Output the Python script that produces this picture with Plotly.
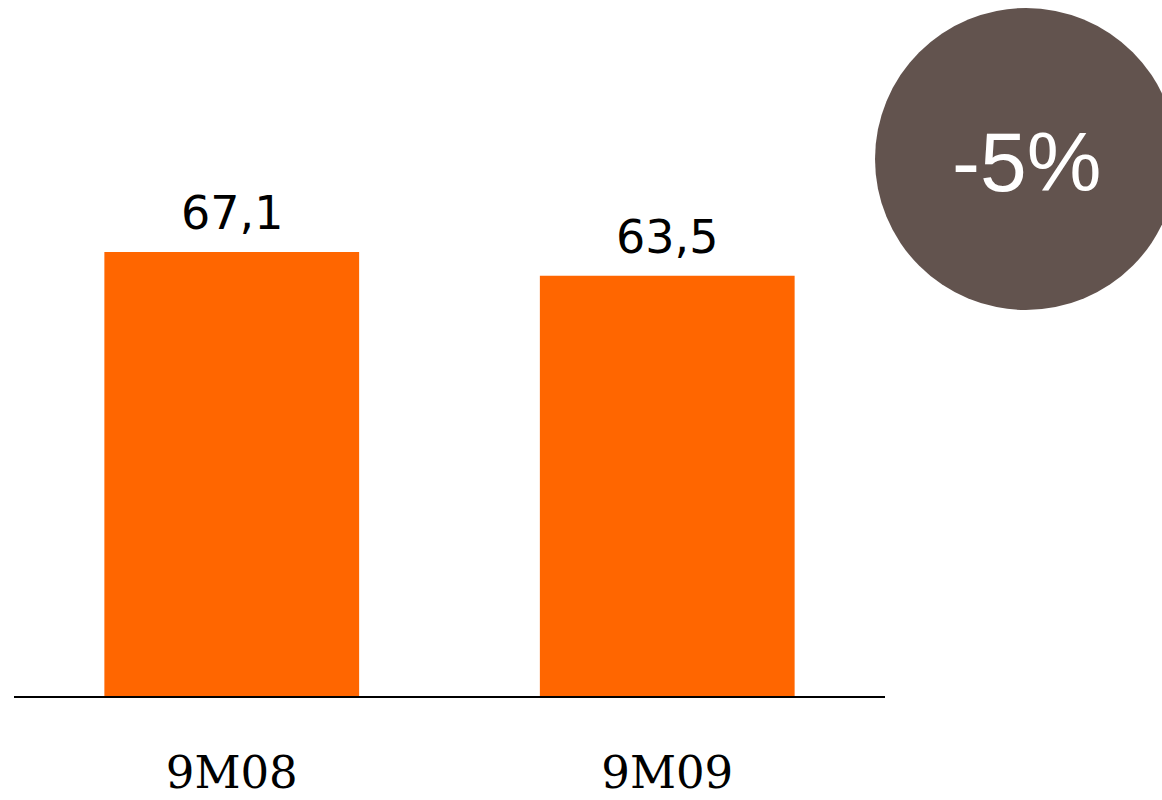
import plotly.graph_objects as go

# Data
periods = ["9M08", "9M09"]
values = [67.1, 63.5]
value_labels = ["67,1", "63,5"]
change_label = "-5%"

ORANGE = "#FF6600"
BROWN = "#62534E"

W, H = 1162, 800
PLOT_BOTTOM = 696  # pixel row of the baseline
PX_PER_UNIT = 444 / 67.1

fig = go.Figure()

fig.add_trace(go.Bar(
    x=periods,
    y=values,
    width=0.585,
    marker=dict(color=ORANGE, line=dict(width=0)),
    hoverinfo="skip",
))

# Value labels above bars
for p, v, lab in zip(periods, values, value_labels):
    fig.add_annotation(
        x=p, y=v, text=lab, showarrow=False,
        xanchor="center", yanchor="bottom", yshift=10,
        font=dict(family="DejaVu Sans", size=46, color="#000000"),
    )

# Change bubble
cx, cy, r = 1026, 159, 151
fig.add_shape(
    type="circle", xref="paper", yref="paper",
    xsizemode="pixel", ysizemode="pixel",
    xanchor=cx / W, yanchor=(PLOT_BOTTOM - cy) / PLOT_BOTTOM,
    x0=-r, x1=r, y0=-r, y1=r,
    fillcolor=BROWN, line=dict(width=0), layer="above",
)
fig.add_annotation(
    xref="paper", yref="paper",
    x=cx / W, y=(PLOT_BOTTOM - 162) / PLOT_BOTTOM,
    text=change_label, showarrow=False,
    xanchor="center", yanchor="middle",
    font=dict(family="Liberation Sans", size=84, color="#FFFFFF"),
)

fig.update_layout(
    width=W, height=H,
    margin=dict(l=0, r=0, t=0, b=H - PLOT_BOTTOM, autoexpand=False),
    paper_bgcolor="white", plot_bgcolor="white",
    showlegend=False,
    xaxis=dict(
        domain=[14 / W, 885 / W],
        range=[-0.5, 1.5],
        automargin=False,
        showline=True, linecolor="#000000", linewidth=2,
        showgrid=False, zeroline=False, ticks="",
        tickfont=dict(family="DejaVu Serif", size=45, color="#000000"),
        ticklabelstandoff=36,
        fixedrange=True,
    ),
    yaxis=dict(
        range=[0, PLOT_BOTTOM / PX_PER_UNIT],
        visible=False, showgrid=False, zeroline=False,
        automargin=False,
        fixedrange=True,
    ),
)

fig.write_html("out.html", config={"displayModeBar": False})
